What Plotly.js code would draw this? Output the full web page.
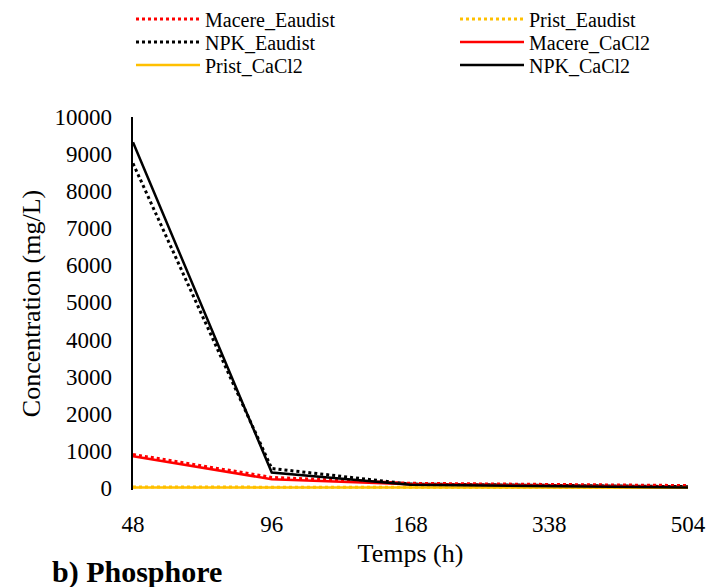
<!DOCTYPE html>
<html>
<head>
<meta charset="utf-8">
<script src="https://cdn.plot.ly/plotly-3.0.1.min.js"></script>
<style>html,body{margin:0;padding:0;background:#fff}#chart{width:710px;height:587px}</style>
</head>
<body>
<div id="chart"></div>
<script>
// Data
var temps = ['48', '96', '168', '338', '504'];
var macereEaudist = [900, 280, 120, 100, 60];
var pristEaudist = [20, 15, 12, 10, 8];
var npkEaudist = [8750, 520, 100, 65, 30];
var macereCaCl2 = [850, 230, 95, 60, 15];
var pristCaCl2 = [10, 8, 6, 5, 3];
var npkCaCl2 = [9320, 410, 80, 45, 5];
var yTicks = [0, 1000, 2000, 3000, 4000, 5000, 6000, 7000, 8000, 9000, 10000];

var RED = '#FF0000', YEL = '#FFC000', BLK = '#000000';
var FONT = 'Liberation Serif, Times New Roman, serif';

function tr(name, y, color, dash, leg) {
  return {
    type: 'scatter', mode: 'lines', name: name, x: temps, y: y,
    line: {color: color, width: dash === 'solid' ? 2.5 : 3, dash: dash},
    legend: leg, hoverinfo: 'skip', cliponaxis: false
  };
}
var DOT = '3px,3px';
var data = [
  tr('Macere_Eaudist', macereEaudist, RED, DOT, 'legend'),
  tr('Prist_Eaudist', pristEaudist, YEL, DOT, 'legend2'),
  tr('NPK_Eaudist', npkEaudist, BLK, DOT, 'legend3'),
  tr('Macere_CaCl2', macereCaCl2, RED, 'solid', 'legend4'),
  tr('Prist_CaCl2', pristCaCl2, YEL, 'solid', 'legend5'),
  tr('NPK_CaCl2', npkCaCl2, BLK, 'solid', 'legend6')
];

// plot area in pixels
var W = 710, H = 587, PL = 133, PR = 688, PT = 117, PB = 490;
function leg(xpx, ypx) {
  return {
    xref: 'paper', yref: 'container',
    x: (xpx - PL) / (PR - PL), y: 1 - ypx / H,
    xanchor: 'left', yanchor: 'middle',
    orientation: 'v', bgcolor: 'rgba(0,0,0,0)', borderwidth: 0,
    itemwidth: 64, font: {family: FONT, size: 20, color: '#000'}
  };
}
var C1 = 131, C2 = 455, R1 = 19, R2 = 42, R3 = 65;

var layout = {
  width: W, height: H,
  margin: {l: PL, r: W - PR, t: PT, b: H - PB},
  paper_bgcolor: '#fff', plot_bgcolor: '#fff',
  font: {family: FONT, size: 23, color: '#000'},
  title: {
    text: '<b>b) Phosphore</b>',
    font: {family: FONT, size: 30, color: '#000'},
    xref: 'container', yref: 'container',
    x: 52 / W, xanchor: 'left', y: 1 - 571 / H, yanchor: 'middle'
  },
  xaxis: {
    type: 'category', range: [0, 4], tickangle: 0,
    showline: false, zeroline: false, showgrid: false, ticks: '',
    ticklabelstandoff: 18,
    tickfont: {family: FONT, size: 23, color: '#000'},
    title: {text: 'Temps (h)', font: {family: FONT, size: 26, color: '#000'}, standoff: 7}
  },
  yaxis: {
    range: [-60, 10000], tickvals: yTicks, tickformat: 'd',
    showline: true, linecolor: '#000', linewidth: 2.5,
    zeroline: false, showgrid: false, ticks: '',
    ticklabelstandoff: 14,
    tickfont: {family: FONT, size: 23, color: '#000'},
    title: {text: 'Concentration (mg/L)', font: {family: FONT, size: 26, color: '#000'}, standoff: 7}
  },
  legend: leg(C1, R1),
  legend2: leg(C2, R1),
  legend3: leg(C1, R2),
  legend4: leg(C2, R2),
  legend5: leg(C1, R3),
  legend6: leg(C2, R3),
  showlegend: true
};

Plotly.newPlot('chart', data, layout, {staticPlot: true, displayModeBar: false});
</script>
</body>
</html>
